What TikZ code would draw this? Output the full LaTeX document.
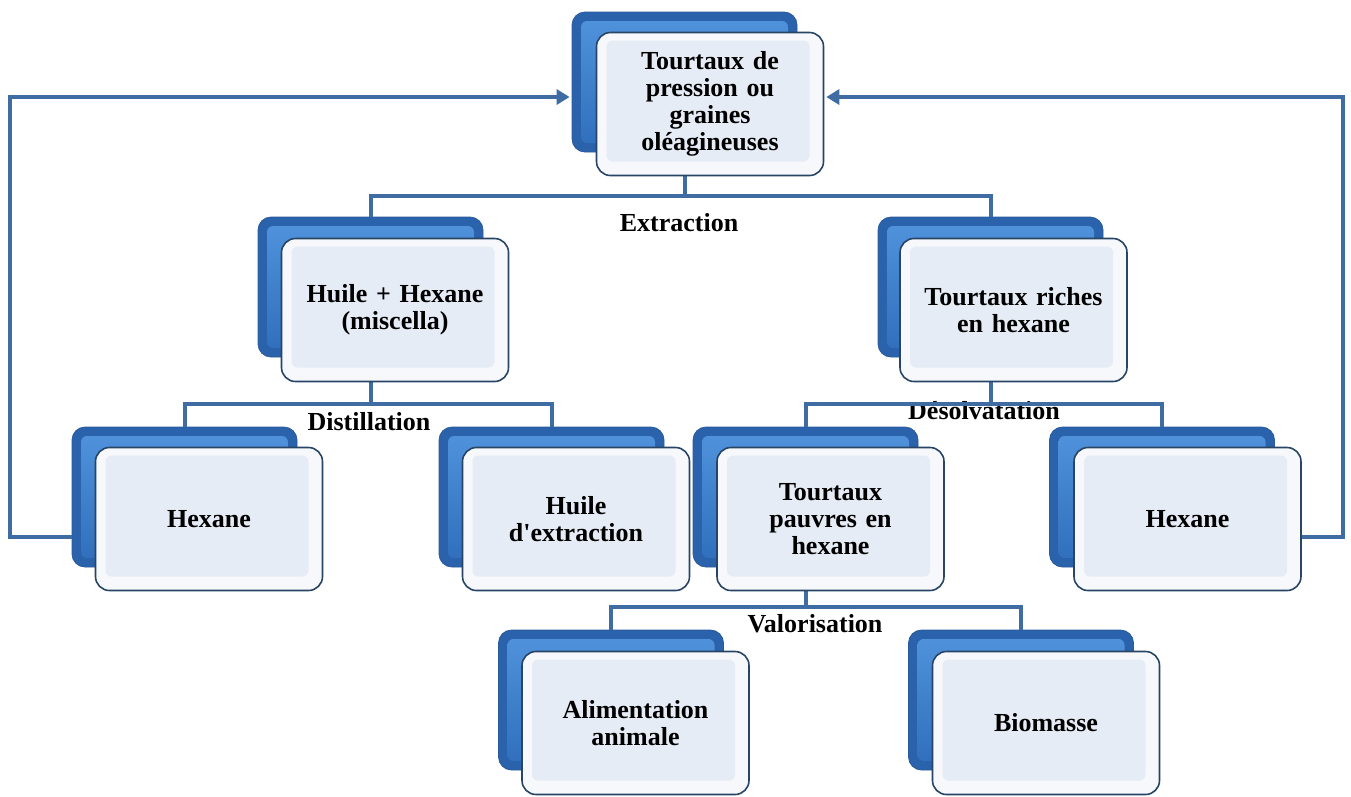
\documentclass[tikz,border=0pt]{standalone}
\usepackage{fontspec}
\setmainfont{Liberation Serif}[Ligatures=TeXOff]
\usetikzlibrary{arrows.meta,calc}
\definecolor{connc}{HTML}{3E6CA3}
\definecolor{backout}{HTML}{2A62AB}
\definecolor{backtop}{HTML}{5194DD}
\definecolor{backbot}{HTML}{2F6DBA}
\definecolor{backline}{HTML}{2A5A9A}
\definecolor{frontout}{HTML}{F6F8FB}
\definecolor{frontin}{HTML}{E6ECF5}
\definecolor{frontline}{HTML}{284566}
\tikzset{
  backbox/.style={rounded corners=13pt, minimum width=225pt, minimum height=140pt,
    draw=backline, line width=0.8pt, fill=backout, inner sep=0pt,
    path picture={\shade[top color=backtop, bottom color=backbot, rounded corners=6pt]
      ([shift={(9pt,-9pt)}]path picture bounding box.north west) rectangle
      ([shift={(-9pt,9pt)}]path picture bounding box.south east);}},
  frontbox/.style={rounded corners=14pt, minimum width=227pt, minimum height=143pt,
    draw=frontline, line width=1.6pt, fill=frontout, inner sep=0pt,
    align=center, text width=200pt,
    font=\bfseries\fontsize{26}{27}\selectfont,
    path picture={\fill[frontin, rounded corners=6pt]
      ([shift={(10pt,-8pt)}]path picture bounding box.north west) rectangle
      ([shift={(-14pt,14pt)}]path picture bounding box.south east);}},
  conn/.style={draw=connc, line width=4pt, line join=miter},
  lab/.style={font=\bfseries\fontsize{26}{27}\selectfont, anchor=base, inner sep=0pt},
  arr/.style={conn, -{Triangle[length=13pt,width=15pt]}, shorten >=2pt}
}
\begin{document}
\begin{tikzpicture}[x=1pt,y=-1pt]
\useasboundingbox (0,0) rectangle (1351,796);
% labels
\node[lab] (lext) at (679,231) {Extraction};
\node[lab] (ldis) at (369,430) {Distillation};
\node[lab] (ldes) at (984,419) {Désolvatation};
\node[lab] (lval) at (815,632) {Valorisation};
% back box positions
\path
  (684.5,82) coordinate (ptop)
  (370.5,287) coordinate (poil)
  (990.5,287) coordinate (prich)
  (184.5,497) coordinate (phexl)
  (551.5,497) coordinate (phuile)
  (805.5,497) coordinate (ppoor)
  (1162,497) coordinate (phexr)
  (611,700) coordinate (palim)
  (1021,700) coordinate (pbio);
\node[backbox] (topb) at (ptop) {};
\node[backbox] (oilb) at (poil) {};
\node[backbox] (richb) at (prich) {};
\node[backbox] (hexlb) at (phexl) {};
\node[backbox] (huileb) at (phuile) {};
\node[backbox] (poorb) at (ppoor) {};
\node[backbox] (hexrb) at (phexr) {};
\node[backbox] (alimb) at (palim) {};
\node[backbox] (biob) at (pbio) {};
% connectors
\coordinate (j1) at ($(topb.south)+(0,44)$);
\draw[conn] (topb.south) -- (j1);
\draw[conn] (oilb.north) |- (j1) -| (richb.north);
\coordinate (j2) at ($(oilb.south)+(0,47)$);
\draw[conn] (oilb.south) -- (j2);
\draw[conn] (hexlb.north) |- (j2) -| (huileb.north);
\coordinate (j3) at ($(richb.south)+(0,47)$);
\draw[conn] (richb.south) -- (j3);
\draw[conn] (poorb.north) |- (j3) -| (hexrb.north);
\coordinate (j4) at ($(poorb.south)+(0,40)$);
\draw[conn] (poorb.south) -- (j4);
\draw[conn] (alimb.north) |- (j4) -| (biob.north);
% front boxes
\node[frontbox] (top) at ($(ptop)+(25.5,22)$) {Tourtaux de\\pression ou\\graines\\oléagineuses};
\node[frontbox] (oil) at ($(poil)+(24.5,23)$) {Huile + Hexane\\(miscella)};
\node[frontbox] (rich) at ($(prich)+(23,23)$) {Tourtaux riches\\en hexane};
\node[frontbox] (hexl) at ($(phexl)+(24.5,22)$) {Hexane};
\node[frontbox] (huile) at ($(phuile)+(24.5,22)$) {Huile\\d'extraction};
\node[frontbox] (poor) at ($(ppoor)+(25,22)$) {Tourtaux\\pauvres en\\hexane};
\node[frontbox] (hexr) at ($(phexr)+(25.5,22)$) {Hexane};
\node[frontbox] (alim) at ($(palim)+(24.5,23)$) {Alimentation\\animale};
\node[frontbox] (bio) at ($(pbio)+(25,23)$) {Biomasse};
% return arrows
\coordinate (lx) at (10,97);
\coordinate (rx) at (1343,97);
\draw[arr] ([yshift=-40pt]hexlb.west) -| (lx) -- ([yshift=-15pt]topb.west);
\draw[arr] ([yshift=-18pt]hexr.east) -| (rx) -- ([yshift=7pt]top.east);
\end{tikzpicture}
\end{document}
